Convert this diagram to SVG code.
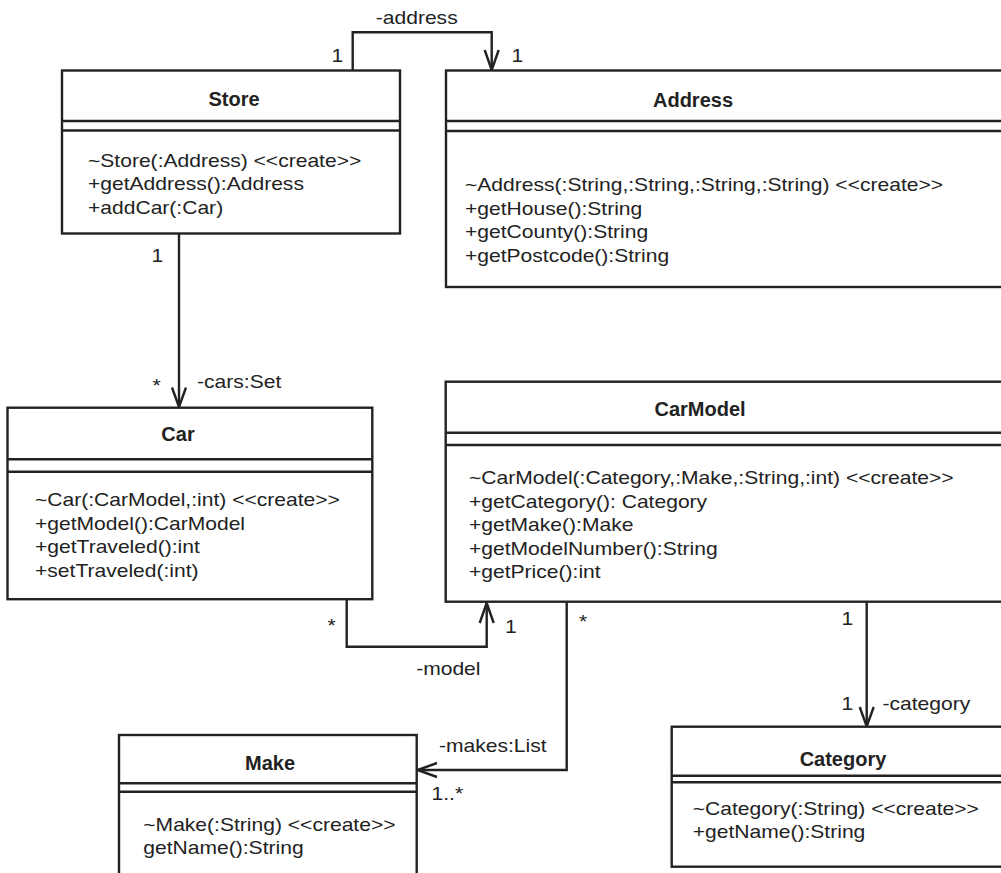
<svg xmlns="http://www.w3.org/2000/svg" width="1001" height="873" viewBox="0 0 1001 873">
<style>
.box{fill:#fff;stroke:#222;stroke-width:2.4}
.sep{stroke:#222;stroke-width:2.4;fill:none}
.con{stroke:#222;stroke-width:2.4;fill:none;stroke-linejoin:miter}
.t{font-family:"Liberation Sans",Arial,sans-serif;font-size:20px;font-weight:bold;fill:#222;text-anchor:middle}
.b{font-family:"Liberation Sans",Arial,sans-serif;font-size:18.4px;fill:#222}
.m{text-anchor:middle}
</style>
<rect width="1001" height="873" fill="#fff"/>
<g id="connectors">
  <path class="con" d="M352.7,70.5 V32.3 H491.7 V70"/>
  <polyline class="con" points="484.7,50 491.7,70 498.7,50"/>
  <path class="con" d="M179,233.5 V407"/>
  <polyline class="con" points="172,387.5 179,407 186,387.5"/>
  <path class="con" d="M346.7,599 V646.7 H486.7 V603"/>
  <polyline class="con" points="479.7,623 486.7,603 493.7,623"/>
  <path class="con" d="M566.7,602 V770 H417.5"/>
  <polyline class="con" points="437,763 417.5,770 437,777"/>
  <path class="con" d="M866.7,602 V726"/>
  <polyline class="con" points="859.7,707 866.7,726.5 873.7,707"/>
  <text class="b m" transform="translate(416.7 24) scale(1.145 1)">-address</text>
  <text class="b" transform="translate(331.5 62) scale(1.145 1)">1</text>
  <text class="b" transform="translate(511.5 62) scale(1.145 1)">1</text>
  <text class="b" transform="translate(151.5 262) scale(1.145 1)">1</text>
  <text class="b" transform="translate(152.5 392) scale(1.145 1)">*</text>
  <text class="b" transform="translate(197 388) scale(1.145 1)">-cars:Set</text>
  <text class="b" transform="translate(327.5 632) scale(1.145 1)">*</text>
  <text class="b" transform="translate(505 633) scale(1.145 1)">1</text>
  <text class="b m" transform="translate(448.3 675) scale(1.145 1)">-model</text>
  <text class="b" transform="translate(579 628) scale(1.145 1)">*</text>
  <text class="b" transform="translate(439 752) scale(1.145 1)">-makes:List</text>
  <text class="b" transform="translate(431.5 800) scale(1.145 1)">1..*</text>
  <text class="b" transform="translate(841.5 625) scale(1.145 1)">1</text>
  <text class="b" transform="translate(841.5 710) scale(1.145 1)">1</text>
  <text class="b" transform="translate(882.5 710) scale(1.145 1)">-category</text>
</g>
<g id="Store">
  <rect class="box" x="62" y="70.5" width="338" height="163"/>
  <path class="sep" d="M62,121 H400 M62,130.5 H400"/>
  <text class="t" x="234" y="106">Store</text>
  <text class="b" transform="translate(88 166.5) scale(1.145 1)">~Store(:Address) &lt;&lt;create&gt;&gt;</text>
  <text class="b" transform="translate(88 190) scale(1.145 1)">+getAddress():Address</text>
  <text class="b" transform="translate(88 214) scale(1.145 1)">+addCar(:Car)</text>
</g>
<g id="Address">
  <rect class="box" x="446" y="70.5" width="600" height="216.5"/>
  <path class="sep" d="M446,121 H1001 M446,131 H1001"/>
  <text class="t" x="693" y="106.5">Address</text>
  <text class="b" transform="translate(465 191) scale(1.145 1)">~Address(:String,:String,:String,:String) &lt;&lt;create&gt;&gt;</text>
  <text class="b" transform="translate(465 214.5) scale(1.145 1)">+getHouse():String</text>
  <text class="b" transform="translate(465 238) scale(1.145 1)">+getCounty():String</text>
  <text class="b" transform="translate(465 261.5) scale(1.145 1)">+getPostcode():String</text>
</g>
<g id="Car">
  <rect class="box" x="7.5" y="407.7" width="364.8" height="191.5"/>
  <path class="sep" d="M7.5,459.3 H372.3 M7.5,471.7 H372.3"/>
  <text class="t" x="178" y="441">Car</text>
  <text class="b" transform="translate(35 506) scale(1.145 1)">~Car(:CarModel,:int) &lt;&lt;create&gt;&gt;</text>
  <text class="b" transform="translate(35 529.5) scale(1.145 1)">+getModel():CarModel</text>
  <text class="b" transform="translate(35 553) scale(1.145 1)">+getTraveled():int</text>
  <text class="b" transform="translate(35 576.5) scale(1.145 1)">+setTraveled(:int)</text>
</g>
<g id="CarModel">
  <rect class="box" x="445.7" y="381.7" width="600" height="220"/>
  <path class="sep" d="M445.7,432.7 H1001 M445.7,445 H1001"/>
  <text class="t" x="700" y="415.5">CarModel</text>
  <text class="b" transform="translate(469 484) scale(1.145 1)">~CarModel(:Category,:Make,:String,:int) &lt;&lt;create&gt;&gt;</text>
  <text class="b" transform="translate(469 507.5) scale(1.145 1)">+getCategory(): Category</text>
  <text class="b" transform="translate(469 531) scale(1.145 1)">+getMake():Make</text>
  <text class="b" transform="translate(469 554.5) scale(1.145 1)">+getModelNumber():String</text>
  <text class="b" transform="translate(469 578) scale(1.145 1)">+getPrice():int</text>
</g>
<g id="Make">
  <rect class="box" x="119" y="735" width="297.7" height="200"/>
  <path class="sep" d="M119,783.3 H416.7 M119,791.7 H416.7"/>
  <text class="t" x="270" y="770">Make</text>
  <text class="b" transform="translate(143.3 831) scale(1.145 1)">~Make(:String) &lt;&lt;create&gt;&gt;</text>
  <text class="b" transform="translate(143.3 854) scale(1.145 1)">getName():String</text>
</g>
<g id="Category">
  <rect class="box" x="671.7" y="726.7" width="400" height="140"/>
  <path class="sep" d="M671.7,775.7 H1001 M671.7,782.3 H1001"/>
  <text class="t" x="843" y="765.5">Category</text>
  <text class="b" transform="translate(692.7 815) scale(1.145 1)">~Category(:String) &lt;&lt;create&gt;&gt;</text>
  <text class="b" transform="translate(692.7 838) scale(1.145 1)">+getName():String</text>
</g>
</svg>
